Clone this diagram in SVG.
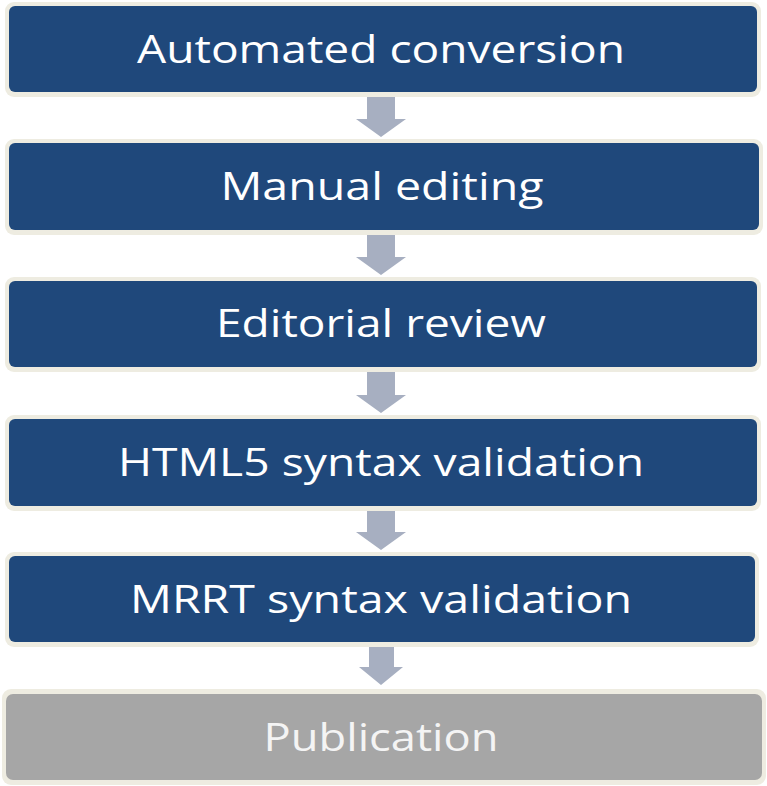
<svg xmlns="http://www.w3.org/2000/svg" width="767" height="786" viewBox="0 0 767 786">
<style>
.frame{fill:#EEECE1}
.blue{fill:#1F487B}
.gray{fill:#A6A6A6}
.arrow{fill:#A7AFC1}
.lbl{font-family:"Open Sans","DejaVu Sans",sans-serif;font-size:38px;fill:#FFFFFF;text-anchor:middle}
.lbl2{fill:#F4F4F4}
</style>
<rect width="767" height="786" fill="#FFFFFF"/>
<g id="connectors">
<polygon class="arrow" points="367,94 395,94 395,119 406,119 381,137 356,119 367,119"/>
<polygon class="arrow" points="367,232 395,232 395,257 406,257 381,275 356,257 367,257"/>
<polygon class="arrow" points="367,369 395,369 395,395 406,395 381,413 356,395 367,395"/>
<polygon class="arrow" points="367,508 395,508 395,532 406,532 381,550 356,532 367,532"/>
<polygon class="arrow" points="369,644 394,644 394,667 403,667 381,685 359,667 369,667"/>
</g>
<g id="n1">
<rect class="frame" x="5" y="2" width="756" height="95" rx="9"/>
<rect class="blue" x="9" y="6" width="748" height="86" rx="6"/>
<text class="lbl" x="381" y="63" textLength="488" lengthAdjust="spacingAndGlyphs">Automated conversion</text>
</g>
<g id="n2">
<rect class="frame" x="5" y="139" width="758" height="96" rx="9"/>
<rect class="blue" x="9" y="143" width="750" height="87" rx="6"/>
<text class="lbl" x="382" y="200" textLength="323" lengthAdjust="spacingAndGlyphs">Manual editing</text>
</g>
<g id="n3">
<rect class="frame" x="5" y="277" width="756" height="95" rx="9"/>
<rect class="blue" x="9" y="281" width="748" height="86" rx="6"/>
<text class="lbl" x="381" y="337" textLength="330" lengthAdjust="spacingAndGlyphs">Editorial review</text>
</g>
<g id="n4">
<rect class="frame" x="5" y="415" width="756" height="96" rx="9"/>
<rect class="blue" x="9" y="419" width="748" height="87" rx="6"/>
<text class="lbl" x="381" y="476" textLength="526" lengthAdjust="spacingAndGlyphs">HTML5 syntax validation</text>
</g>
<g id="n5">
<rect class="frame" x="5" y="552" width="754" height="95" rx="9"/>
<rect class="blue" x="9" y="556" width="746" height="86" rx="6"/>
<text class="lbl" x="381" y="613" textLength="502" lengthAdjust="spacingAndGlyphs">MRRT syntax validation</text>
</g>
<g id="n6">
<rect class="frame" x="2" y="689" width="764" height="96" rx="9"/>
<rect class="gray" x="6" y="694" width="756" height="86" rx="7"/>
<text class="lbl lbl2" x="381" y="751" textLength="235" lengthAdjust="spacingAndGlyphs">Publication</text>
</g>
</svg>
